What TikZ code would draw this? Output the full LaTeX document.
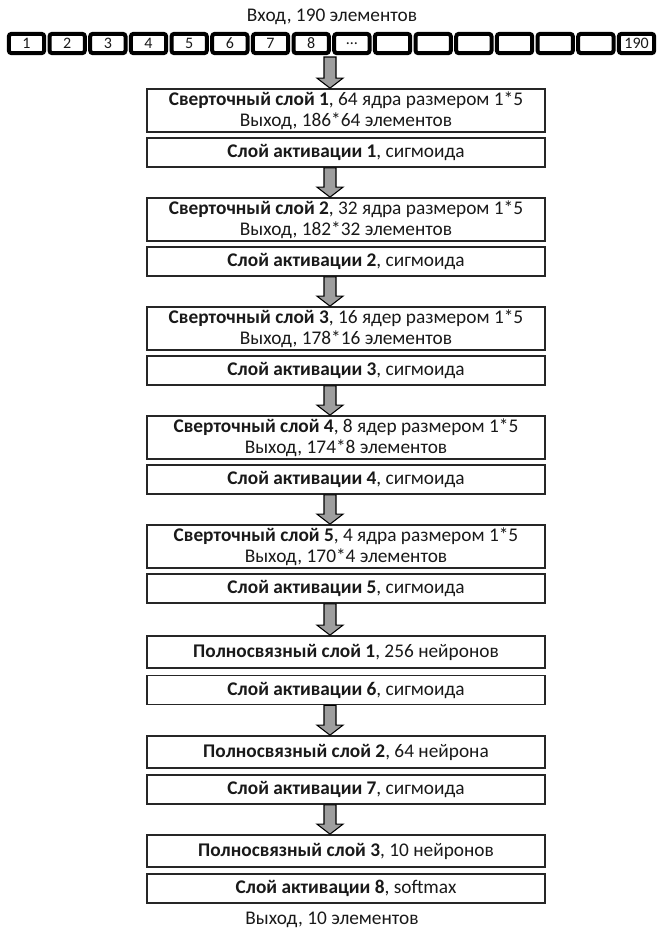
\documentclass[tikz,border=0pt]{standalone}
\usepackage{fontspec}
\setmainfont{Carlito}
\usetikzlibrary{calc}

\tikzset{
  layer/.style={draw=black!85, line width=1.3pt, fill=white, minimum width=298.5pt, align=center, inner sep=0pt},
  convbox/.style={layer, minimum height=32.25pt},
  actbox/.style={layer, minimum height=21.75pt},
  fcbox/.style={layer, minimum height=24pt},
  cell/.style={draw=black, line width=3pt, rounded corners=2pt, minimum width=26.5pt, minimum height=14.5pt, inner sep=0pt, font=\fontsize{12}{13}\selectfont},
  flow/.style={draw=black, line width=0.8pt, fill=black!38},
}

\newcommand{\flowarrow}[2]{%
  \path (#1 -| ax) coordinate (fa) (#2 -| ax) coordinate (fb);
  \filldraw[flow] ($(fa)+(-6,0)$) -- ($(fb)+(-6,-10)$) -- ($(fb)+(-13,-10)$) -- (fb)
    -- ($(fb)+(13,-10)$) -- ($(fb)+(6,-10)$) -- ($(fa)+(6,0)$) -- cycle;}

\begin{document}
\begin{tikzpicture}[x=0.75pt, y=-0.75pt, font=\fontsize{14.5}{15.75}\selectfont, text=black!90]

        \useasboundingbox (0,0) rectangle (665,933);
        \coordinate (ax) at (330,0);

        % input vector
        \node (title) at (332,17) {Вход, 190 элементов};
        \foreach \i/\t in {1/1,2/2,3/3,4/4,5/5,6/6,7/7,8/8,9/\ldots,10/,11/,12/,13/,14/,15/,16/190}
          \node[cell] (c\i) at ({26.5+40.67*(\i-1)},43.5) {\t};
        \coordinate (inrow) at (330,57);

        % convolution part
        \node[convbox] (conv1) at (346,110.5) {\textbf{Сверточный слой 1}, 64 ядра размером 1*5\\Выход, 186*64 элементов};
        \node[actbox]  (act1)  at (346,152.5) {\textbf{Слой активации 1}, сигмоида};
        \node[convbox] (conv2) at (346,219.5) {\textbf{Сверточный слой 2}, 32 ядра размером 1*5\\Выход, 182*32 элементов};
        \node[actbox]  (act2)  at (346,261.5) {\textbf{Слой активации 2}, сигмоида};
        \node[convbox] (conv3) at (346,328.5) {\textbf{Сверточный слой 3}, 16 ядер размером 1*5\\Выход, 178*16 элементов};
        \node[actbox]  (act3)  at (346,370.5) {\textbf{Слой активации 3}, сигмоида};
        \node[convbox] (conv4) at (346,437.5) {\textbf{Сверточный слой 4}, 8 ядер размером 1*5\\Выход, 174*8 элементов};
        \node[actbox]  (act4)  at (346,479.5) {\textbf{Слой активации 4}, сигмоида};
        \node[convbox] (conv5) at (346,546.5) {\textbf{Сверточный слой 5}, 4 ядра размером 1*5\\Выход, 170*4 элементов};
        \node[actbox]  (act5)  at (346,588.5) {\textbf{Слой активации 5}, сигмоида};

        % fully connected part
        \node[fcbox]  (fc1)  at (346,652) {\textbf{Полносвязный слой 1}, 256 нейронов};
        \node[actbox] (act6) at (346,690) {\textbf{Слой активации 6}, сигмоида};
        \node[fcbox]  (fc2)  at (346,752) {\textbf{Полносвязный слой 2}, 64 нейрона};
        \node[actbox] (act7) at (346,789.5) {\textbf{Слой активации 7}, сигмоида};
        \node[fcbox]  (fc3)  at (346,851) {\textbf{Полносвязный слой 3}, 10 нейронов};
        \node[actbox] (act8) at (346,888.5) {\textbf{Слой активации 8}, softmax};

        \node (out) at (332,920) {Выход, 10 элементов};

        \flowarrow{inrow}{conv1.north}
        \flowarrow{act1.south}{conv2.north}
        \flowarrow{act2.south}{conv3.north}
        \flowarrow{act3.south}{conv4.north}
        \flowarrow{act4.south}{conv5.north}
        \flowarrow{act5.south}{fc1.north}
        \flowarrow{act6.south}{fc2.north}
        \flowarrow{act7.south}{fc3.north}

\end{tikzpicture}
\end{document}
